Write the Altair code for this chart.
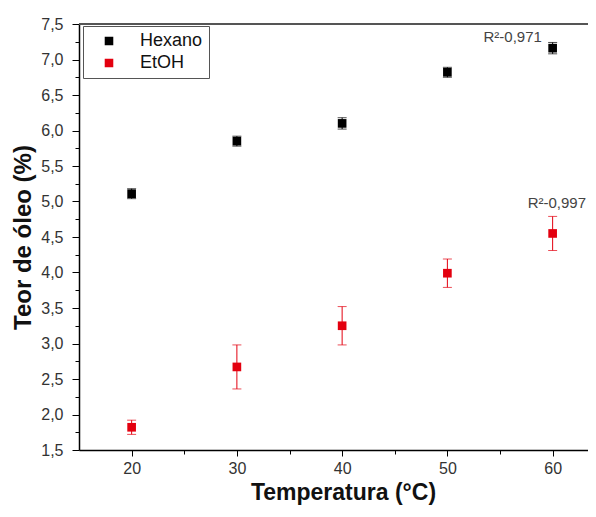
import altair as alt
import pandas as pd

temps = [20, 30, 40, 50, 60]
hexano = [5.11, 5.85, 6.10, 6.82, 7.16]
hexano_err = [0.07, 0.07, 0.08, 0.07, 0.08]
etoh = [1.82, 2.67, 3.25, 3.99, 4.55]
etoh_err = [0.10, 0.31, 0.27, 0.20, 0.24]

ann_text = ["R\u00b2-0,971", "R\u00b2-0,997"]
ann_x = [56.2, 60.4]
ann_y = [7.32, 4.98]

x_major = [20, 30, 40, 50, 60]
x_minor = [25, 35, 45, 55]
y_major = [1.5, 2.0, 2.5, 3.0, 3.5, 4.0, 4.5, 5.0, 5.5, 6.0, 6.5, 7.0, 7.5]
y_minor = [1.75, 2.25, 2.75, 3.25, 3.75, 4.25, 4.75, 5.25, 5.75, 6.25, 6.75, 7.25]

rows = []
for t, v, e in zip(temps, hexano, hexano_err):
    rows.append({"T": t, "v": v, "lo": v - e, "hi": v + e, "s": "Hexano"})
for t, v, e in zip(temps, etoh, etoh_err):
    rows.append({"T": t, "v": v, "lo": v - e, "hi": v + e, "s": "EtOH"})
df = pd.DataFrame(rows)
ann = pd.DataFrame({"t": ann_text, "x": ann_x, "y": ann_y})

FONT = "Liberation Sans"
XD = [15, 63.36]
YD = [1.5, 7.5]
xs = alt.Scale(domain=XD, nice=False, zero=False)
ys = alt.Scale(domain=YD, nice=False, zero=False)
color = alt.Scale(domain=["Hexano", "EtOH"], range=["#000000", "#e3000f"])

xaxis = alt.Axis(
    title="Temperatura (\u00b0C)", orient="bottom",
    values=x_major, tickCount=40, labelOverlap=False, tickSize=6,
    grid=False, domainColor="#000", tickColor="#000", domainWidth=1.5,
    labelFont=FONT, labelFontSize=16, labelColor="#333", labelPadding=4,
    titleFont=FONT, titleFontSize=23, titleFontWeight="bold", titleColor="#111",
    titleX=264, titleY=54, titleBaseline="bottom",
)
yaxis = alt.Axis(
    title="Teor de \u00f3leo (%)", orient="left",
    values=y_major, tickCount=40, labelOverlap=False, tickSize=7,
    labelExpr="replace(format(datum.value, '.1f'), '.', ',')",
    grid=False, domainColor="#000", tickColor="#000", domainWidth=1.5,
    labelFont=FONT, labelFontSize=16, labelColor="#333", labelPadding=9,
    titleFont=FONT, titleFontSize=24, titleFontWeight="bold", titleColor="#111",
    titleX=-44, titleY=213,
)
xaxis_minor = alt.Axis(
    title=None, orient="bottom", values=x_minor, tickCount=40, labels=False,
    domain=False, grid=False, tickSize=4, tickColor="#000",
)
yaxis_minor = alt.Axis(
    title=None, orient="left", values=y_minor, tickCount=40, labels=False,
    domain=False, grid=False, tickSize=4, tickColor="#000",
)

base = alt.Chart(df)
legend = alt.Legend(
    title=None, orient="none", legendX=4, legendY=2,
    strokeColor="#555", padding=6, symbolType="square", symbolSize=50,
    symbolOpacity=1, symbolOffset=11, labelOffset=22, labelFont=FONT,
    labelFontSize=18, labelColor="#111", rowPadding=4, fillColor="white",
)
col = alt.Color("s:N", scale=color, sort=["Hexano", "EtOH"], legend=legend)

rules = base.mark_rule(strokeWidth=1).encode(
    x=alt.X("T:Q", scale=xs, axis=xaxis),
    y=alt.Y("lo:Q", scale=ys, axis=yaxis),
    y2="hi:Q",
    color=col,
)
caps_lo = base.mark_tick(orient="horizontal", size=9, thickness=1).encode(
    x=alt.X("T:Q", scale=xs, axis=xaxis), y=alt.Y("lo:Q", scale=ys, axis=yaxis), color=col
)
caps_hi = base.mark_tick(orient="horizontal", size=9, thickness=1).encode(
    x=alt.X("T:Q", scale=xs, axis=xaxis), y=alt.Y("hi:Q", scale=ys, axis=yaxis), color=col
)
points = base.mark_point(shape="square", filled=True, size=75, opacity=1).encode(
    x=alt.X("T:Q", scale=xs, axis=xaxis), y=alt.Y("v:Q", scale=ys, axis=yaxis), color=col,
)
top = alt.Chart(pd.DataFrame({"y": [7.5]})).mark_rule(color="#555", strokeWidth=2).encode(
    y=alt.Y("y:Q", scale=ys, axis=yaxis)
)
texts = alt.Chart(ann).mark_text(font=FONT, fontSize=15, color="#444").encode(
    x=alt.X("x:Q", scale=xs, axis=xaxis), y=alt.Y("y:Q", scale=ys, axis=yaxis), text="t:N"
)
minor = alt.Chart(df).mark_point(opacity=0).encode(
    x=alt.X("T:Q", scale=alt.Scale(domain=XD, nice=False, zero=False), axis=xaxis_minor),
    y=alt.Y("v:Q", scale=alt.Scale(domain=YD, nice=False, zero=False), axis=yaxis_minor),
)

main = alt.layer(top, rules, caps_lo, caps_hi, points, texts)

chart = alt.layer(main, minor).resolve_scale(x="independent", y="independent").properties(
    width=509, height=426,
    autosize=alt.AutoSizeParams(type="none"),
    padding={"left": 71, "top": 16, "right": 0, "bottom": 59},
).configure_view(stroke=None)

chart.save("out.html", embed_options={"renderer": "svg", "actions": False})
